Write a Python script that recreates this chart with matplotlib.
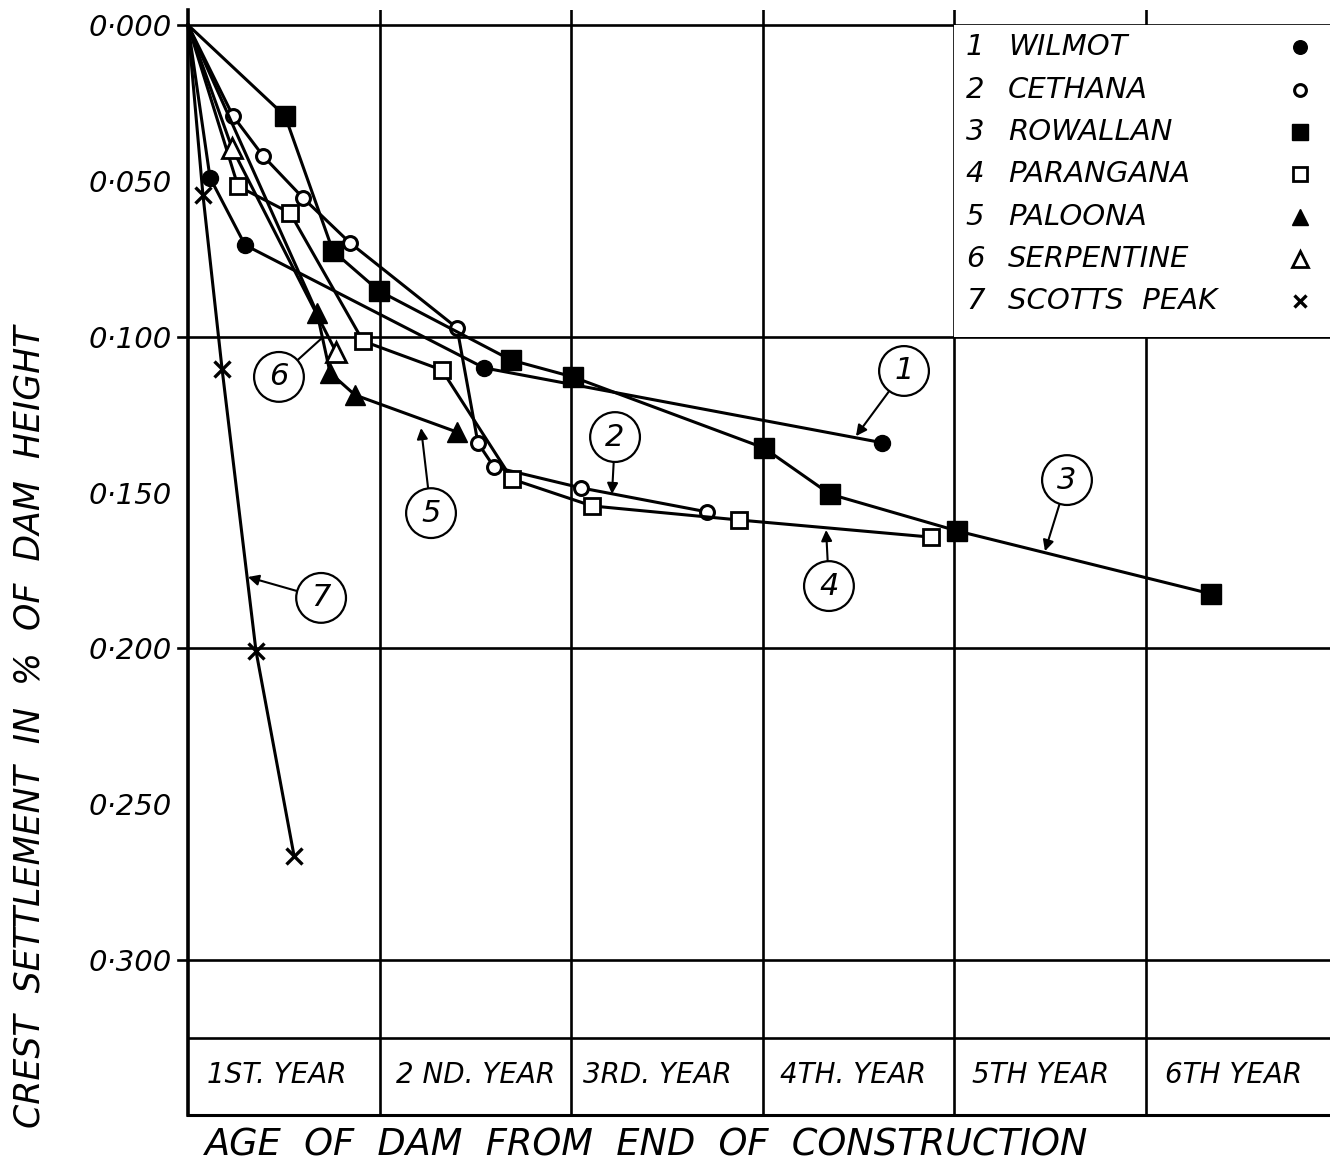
import matplotlib.pyplot as plt
from matplotlib.patches import Rectangle

# age of dam (years after end of construction) and crest settlement (% of dam height)
wilmot_x = [0, 0.115, 0.298, 1.546, 3.624]
wilmot_y = [0, 0.049, 0.0706, 0.110, 0.134]

cethana_x = [0, 0.235, 0.392, 0.601, 0.846, 1.405, 1.514, 1.598, 2.052, 2.710]
cethana_y = [0, 0.0292, 0.0420, 0.0555, 0.0699, 0.0972, 0.1341, 0.1418, 0.1485, 0.1562]

rowallan_x = [0, 0.507, 0.757, 0.997, 1.687, 2.010, 3.008, 3.352, 4.016, 5.342]
rowallan_y = [0, 0.0292, 0.0725, 0.0853, 0.1075, 0.1129, 0.1357, 0.1505, 0.1623, 0.1825]

parangana_x = [0, 0.261, 0.533, 0.914, 1.326, 1.692, 2.110, 2.877, 3.880]
parangana_y = [0, 0.0517, 0.0603, 0.1014, 0.1107, 0.1457, 0.1543, 0.1588, 0.1643]

paloona_x = [0, 0.674, 0.742, 0.872, 1.405]
paloona_y = [0, 0.0924, 0.1116, 0.1187, 0.1306]

serpentine_x = [0, 0.230, 0.773]
serpentine_y = [0, 0.0395, 0.1049]

scotts_x = [0, 0.078, 0.178, 0.355, 0.554]
scotts_y = [0, 0.0545, 0.1104, 0.2008, 0.2666]

names = ["WILMOT", "CETHANA", "ROWALLAN", "PARANGANA", "PALOONA", "SERPENTINE", "SCOTTS  PEAK"]
year_labels = ["1ST. YEAR", "2 ND. YEAR", "3RD. YEAR", "4TH. YEAR", "5TH YEAR", "6TH YEAR"]
year_centres = [0.465, 1.50, 2.45, 3.47, 4.45, 5.46]
y_ticks = [0.0, 0.05, 0.10, 0.15, 0.20, 0.25, 0.30]
y_tick_labels = ["0·000", "0·050", "0·100", "0·150", "0·200", "0·250", "0·300"]

# curve number, circle centre, arrow tip
callouts = [
    ("1", (3.739, 0.1110), (3.488, 0.1319)),
    ("2", (2.230, 0.1322), (2.214, 0.1505)),
    ("3", (4.590, 0.1460), (4.475, 0.1688)),
    ("4", (3.347, 0.1800), (3.332, 0.1620)),
    ("5", (1.269, 0.1566), (1.217, 0.1293)),
    ("6", (0.475, 0.1129), (0.700, 0.1004)),
    ("7", (0.695, 0.1838), (0.313, 0.1771)),
]

series = [
    (wilmot_x, wilmot_y, dict(marker="o", ms=11.5, mfc="k")),
    (cethana_x, cethana_y, dict(marker="o", ms=10, mfc="white", mew=2.2)),
    (rowallan_x, rowallan_y, dict(marker="s", ms=14, mfc="k")),
    (parangana_x, parangana_y, dict(marker="s", ms=12, mfc="white", mew=2)),
    (paloona_x, paloona_y, dict(marker="^", ms=14, mfc="k")),
    (serpentine_x, serpentine_y, dict(marker="^", ms=14, mfc="white", mew=2)),
    (scotts_x, scotts_y, dict(marker="x", ms=11, mew=2.4)),
]

xmax = 1142 / 191.5
fig = plt.figure(figsize=(13.3, 11.66), dpi=100)
ax = fig.add_axes([188 / 1330, 51 / 1166, 1142 / 1330, 1105 / 1166])
ax.set_xlim(0, xmax)
ax.set_ylim(1090 / 3117, -15 / 3117)

for s in ["top", "right"]:
    ax.spines[s].set_visible(False)
ax.spines["left"].set_linewidth(2.6)
ax.spines["bottom"].set_linewidth(2.2)

# grid
for yv in [0.0, 0.1, 0.2, 0.3]:
    ax.plot([-0.05, xmax], [yv, yv], color="k", lw=1.9, clip_on=False, zorder=2)
ax.axhline(0.325, color="k", lw=1.9, zorder=2)
for xv in range(1, 6):
    ax.axvline(xv, color="k", lw=1.9, zorder=2)

ax.set_xticks([])
ax.set_yticks(y_ticks)
ax.set_yticklabels(y_tick_labels, fontsize=21, style="italic")
ax.tick_params(axis="y", length=0, pad=12)

for xc, lab in zip(year_centres, year_labels):
    ax.text(xc, 0.3369, lab, ha="center", va="center", fontsize=20, style="italic")

# curves (no marker at the common origin)
for x, y, st in series:
    ax.plot(x, y, color="k", lw=2.2, mec="k", zorder=4, clip_on=False,
            markevery=slice(1, None), **st)

# legend box
ax.add_patch(Rectangle((4.0, 0.0), xmax - 4.0, 0.1, fc="white", ec="none", zorder=3))
for i, (name, (_, _, st)) in enumerate(zip(names, series)):
    yr = 0.0072 + i * 0.01357
    ax.text(4.11, yr, str(i + 1), ha="center", va="center", fontsize=21, style="italic", zorder=5)
    ax.text(4.282, yr, name, ha="left", va="center", fontsize=21, style="italic", zorder=5)
    leg = dict(st)
    leg["ms"] = leg["ms"] * 0.85
    ax.plot([5.807], [yr], color="k", mec="k", ls="none", zorder=5, **leg)

# numbered callouts
for num, centre, tip in callouts:
    style = "-" if num == "6" else "-|>"
    ax.annotate(num, xy=tip, xytext=centre, ha="center", va="center",
                fontsize=22, style="italic", zorder=6,
                bbox=dict(boxstyle="circle,pad=0.34", fc="white", ec="k", lw=1.6),
                arrowprops=dict(arrowstyle=style, color="k", lw=1.5,
                                mutation_scale=16, shrinkA=0, shrinkB=0))

fig.text(30 / 1330, 1 - 727 / 1166, "CREST  SETTLEMENT  IN  %  OF  DAM  HEIGHT",
         rotation=90, ha="center", va="center", fontsize=25, style="italic")
fig.text(647 / 1330, 1 - 1145 / 1166, "AGE  OF  DAM  FROM  END  OF  CONSTRUCTION",
         ha="center", va="center", fontsize=26.5, style="italic")

fig.savefig("out.png", dpi=100)
